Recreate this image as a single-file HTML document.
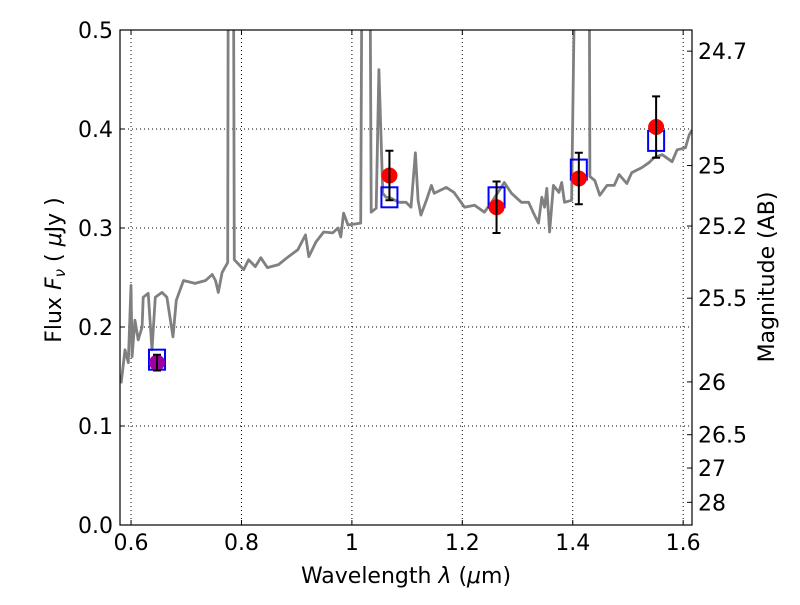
<!DOCTYPE html>
<html><head><meta charset="utf-8"><style>
body{margin:0;background:#fff;width:800px;height:600px;overflow:hidden}
svg text{font-family:"DejaVu Sans","Liberation Sans",sans-serif;fill:#000}
</style></head><body>
<svg id="chart" width="800" height="600" xmlns="http://www.w3.org/2000/svg">
<g id="grid"></g>
<g id="plot"></g>
<g id="axes"></g>
</svg>
<script>
const specWave=[0.582,0.589,0.595,0.600,0.602,0.607,0.613,0.620,0.622,0.631,0.638,0.644,0.656,0.665,0.676,0.682,0.695,0.716,0.735,0.747,0.753,0.758,0.765,0.775,0.777,0.784,0.787,0.804,0.813,0.825,0.835,0.847,0.867,0.885,0.902,0.916,0.922,0.935,0.949,0.965,0.975,0.980,0.985,0.993,1.016,1.021,1.030,1.035,1.044,1.049,1.056,1.062,1.071,1.085,1.098,1.107,1.115,1.120,1.125,1.135,1.144,1.149,1.171,1.185,1.204,1.222,1.240,1.253,1.276,1.289,1.307,1.320,1.329,1.338,1.344,1.349,1.353,1.358,1.365,1.375,1.380,1.385,1.398,1.412,1.428,1.431,1.440,1.449,1.462,1.475,1.484,1.498,1.507,1.525,1.538,1.547,1.562,1.580,1.589,1.604,1.611,1.616];
const specFlux=[0.143,0.177,0.164,0.242,0.170,0.207,0.187,0.200,0.230,0.234,0.177,0.230,0.235,0.230,0.190,0.227,0.247,0.244,0.247,0.253,0.247,0.235,0.255,0.265,0.9,0.9,0.268,0.258,0.268,0.261,0.270,0.260,0.263,0.271,0.278,0.293,0.271,0.286,0.296,0.295,0.300,0.291,0.315,0.303,0.305,0.9,0.9,0.316,0.320,0.460,0.335,0.331,0.330,0.326,0.326,0.321,0.376,0.328,0.313,0.328,0.343,0.335,0.341,0.336,0.321,0.323,0.316,0.326,0.346,0.335,0.326,0.326,0.315,0.305,0.331,0.321,0.340,0.296,0.343,0.336,0.346,0.326,0.328,0.9,0.9,0.352,0.348,0.333,0.343,0.343,0.354,0.345,0.356,0.361,0.366,0.371,0.374,0.367,0.379,0.381,0.394,0.399];
const obsWave=[0.647,1.068,1.262,1.411,1.551];
const obsFlux=[0.164,0.353,0.321,0.350,0.402];
const obsErr=[0.008,0.025,0.026,0.026,0.031];
const obsColor=["#a000a0","red","red","red","red"];
const modelFlux=[0.167,0.331,0.331,0.359,0.388];
const xTicks=[0.6,0.8,1.0,1.2,1.4,1.6];
const xTickLabels=["0.6","0.8","1","1.2","1.4","1.6"];
const yTicks=[0,0.1,0.2,0.3,0.4,0.5];
const yTickLabels=["0.0","0.1","0.2","0.3","0.4","0.5"];
const magTicks=[24.7,25,25.2,25.5,26,26.5,27,28];

const L=120,R=692,T=30,B=525,X0=0.580,X1=1.616,Y0=0,Y1=0.5;
const sx=v=>L+(v-X0)/(X1-X0)*(R-L);
const sy=v=>B-(v-Y0)/(Y1-Y0)*(B-T);
const NS="http://www.w3.org/2000/svg";
function mk(parent,tag,attrs){const e=document.createElementNS(NS,tag);for(const k in attrs)e.setAttribute(k,attrs[k]);parent.appendChild(e);return e;}
const grid=document.getElementById('grid'),plot=document.getElementById('plot'),axes=document.getElementById('axes');
const defs=mk(document.getElementById('chart'),'defs',{});
const cp=mk(defs,'clipPath',{id:'clip'});mk(cp,'rect',{x:L,y:T,width:R-L,height:B-T});
plot.setAttribute('clip-path','url(#clip)');

xTicks.forEach((v,i)=>{
  const g=mk(grid,'line',{x1:sx(v),x2:sx(v),y1:T,y2:B,stroke:'#000','stroke-dasharray':'1,3','stroke-width':1});
  
  
  mk(axes,'line',{x1:sx(v),x2:sx(v),y1:B,y2:B-5,stroke:'#000'});
  mk(axes,'line',{x1:sx(v),x2:sx(v),y1:T,y2:T+5,stroke:'#000'});
  const t=mk(axes,'text',{x:sx(v),y:B+25,'font-size':22,'text-anchor':'middle'});t.textContent=xTickLabels[i];
  
  
});
yTicks.forEach((v,i)=>{
  if(v>0&&v<0.5){const g=mk(grid,'line',{x1:L,x2:R,y1:sy(v),y2:sy(v),stroke:'#000','stroke-dasharray':'1,3','stroke-width':1});
  
  }
  mk(axes,'line',{x1:L,x2:L+5,y1:sy(v),y2:sy(v),stroke:'#000'});
  const t=mk(axes,'text',{x:L-7,y:sy(v)+8,'font-size':22,'text-anchor':'end'});t.textContent=yTickLabels[i];
  
  
});
magTicks.forEach(m=>{
  const f=Math.pow(10,(23.9-m)/2.5);const y=sy(f);
  mk(axes,'line',{x1:R,x2:R-5,y1:y,y2:y,stroke:'#000'});
  const t=mk(axes,'text',{x:R+6,y:y+8,'font-size':22});t.textContent=String(m);
  
  
});

const pts=specWave.map((w,i)=>sx(w).toFixed(1)+','+sy(specFlux[i]).toFixed(1)).join(' ');
const sp=mk(plot,'polyline',{points:pts,fill:'none',stroke:'#808080','stroke-width':2.8,'stroke-linejoin':'round'});



obsWave.forEach((w,i)=>{
  const x=sx(w);
  const b=mk(plot,'rect',{x:x-8,y:sy(modelFlux[i])-10,width:16,height:20,fill:'none',stroke:'#0000ff','stroke-width':2});
  
  
  const c=mk(plot,'circle',{cx:x,cy:sy(obsFlux[i]),r:8,fill:obsColor[i]});
  
  
  const y1=sy(obsFlux[i]+obsErr[i]),y2=sy(obsFlux[i]-obsErr[i]);
  const eb=mk(plot,'path',{d:`M${x},${y1}V${y2}M${x-4},${y1}H${x+4}M${x-4},${y2}H${x+4}`,stroke:'#000','stroke-width':2,fill:'none'});
  
  
});

mk(axes,'rect',{x:L,y:T,width:R-L,height:B-T,fill:'none',stroke:'#000','stroke-width':1.2});
const xl=mk(axes,'text',{x:406,y:583,'font-size':22,'text-anchor':'middle'});
xl.innerHTML='Wavelength  <tspan font-style="italic">λ</tspan> (<tspan font-style="italic">μ</tspan>m)';


const yl=mk(axes,'text',{x:0,y:0,'font-size':22,'text-anchor':'middle',transform:'translate(61,270) rotate(-90)'});
yl.innerHTML='Flux  <tspan font-style="italic">F</tspan><tspan font-style="italic" font-size="15" dy="4">ν</tspan><tspan dy="-4">  ( </tspan><tspan font-style="italic">μ</tspan>Jy )';


const rl=mk(axes,'text',{x:0,y:0,'font-size':22,'text-anchor':'middle',transform:'translate(774,277) rotate(-90)'});
rl.textContent='Magnitude (AB)';


</script>
</body></html>
